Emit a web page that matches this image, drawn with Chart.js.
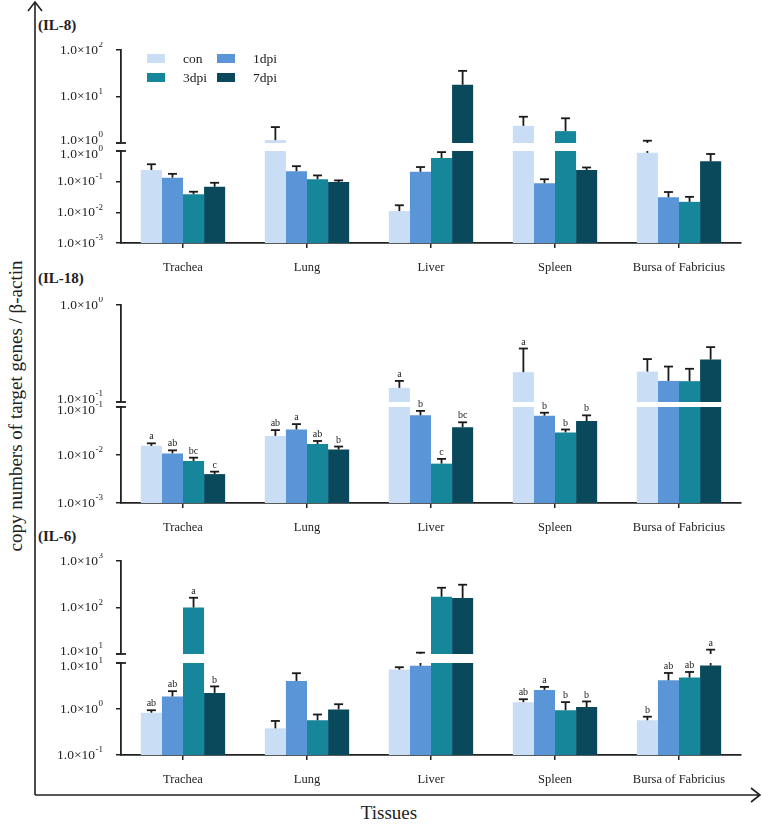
<!DOCTYPE html>
<html>
<head>
<meta charset="utf-8">
<script src="https://cdn.jsdelivr.net/npm/chart.js@4.4.1/dist/chart.umd.min.js"></script>
<style>
  body { margin: 0; background: #fff; }
  #fig { position: relative; width: 762px; height: 827px; font-family: "Liberation Serif", serif; color: #222; }
  #fig canvas { position: absolute; }
  .t { position: absolute; white-space: nowrap; line-height: 1; }
  .panel { font-weight: bold; font-size: 15px; }
  .sw { position: absolute; width: 18px; height: 9px; }
</style>
</head>
<body>
<div id="fig">
  <svg width="762" height="827" style="position:absolute;left:0;top:0">
    <g stroke="#222" stroke-width="1.6" fill="none">
      <path d="M35 795 V2 M28 11 L35 2 L42 11" />
      <path d="M35 795 H760 M751 788 L760 795 L751 802" />
    </g>
  </svg>
  <div class="t panel" style="left:38px;top:18px">(IL-8)</div>
  <div class="t panel" style="left:38px;top:271px">(IL-18)</div>
  <div class="t panel" style="left:38px;top:529px">(IL-6)</div>
  <div class="t" style="left:15px;top:406px;font-size:19px;transform:translate(-50%,-50%) rotate(-90deg)">copy numbers of target genes / β-actin</div>
  <div class="t" style="left:389px;top:812px;font-size:19px;transform:translate(-50%,-50%)">Tissues</div>
</div>
<script>
"use strict";
const tissues = ["Trachea", "Lung", "Liver", "Spleen", "Bursa of Fabricius"];
const groups = ["con", "1dpi", "3dpi", "7dpi"];
const groupColors = ["#c9ddf4", "#5a96d7", "#16879a", "#09495b"];

// means per group (rows: con, 1dpi, 3dpi, 7dpi; cols: tissues)
const il8Mean = [
  [0.24, 1.15, 0.011, 2.34, 0.87],
  [0.135, 0.22, 0.21, 0.089, 0.031],
  [0.039, 0.12, 0.59, 1.8, 0.022],
  [0.068, 0.097, 17.9, 0.24, 0.46],
];
// top of error bar (mean + SD)
const il8Err = [
  [0.37, 2.2, 0.017, 3.67, 1.12],
  [0.18, 0.32, 0.30, 0.12, 0.046],
  [0.047, 0.16, 0.92, 3.4, 0.032],
  [0.092, 0.11, 35.6, 0.29, 0.8],
];
const il18Mean = [
  [0.0155, 0.025, 0.14, 0.203, 0.206],
  [0.0108, 0.034, 0.067, 0.066, 0.165],
  [0.0075, 0.017, 0.0066, 0.0296, 0.164],
  [0.004, 0.013, 0.038, 0.051, 0.274],
];
const il18Err = [
  [0.0175, 0.033, 0.165, 0.356, 0.277],
  [0.0125, 0.044, 0.083, 0.076, 0.232],
  [0.0088, 0.0196, 0.0083, 0.034, 0.22],
  [0.0045, 0.015, 0.048, 0.067, 0.368],
];
const il18Letters = [
  ["a", "ab", "a", "a", ""],
  ["ab", "a", "b", "b", ""],
  ["bc", "ab", "c", "b", ""],
  ["c", "b", "bc", "b", ""],
];
const il6Mean = [
  [0.83, 0.38, 7.2, 1.41, 0.57],
  [1.87, 4.07, 8.7, 2.6, 4.2],
  [100, 0.57, 170, 0.94, 4.83],
  [2.24, 0.98, 160, 1.1, 8.8],
];
const il6Err = [
  [0.94, 0.55, 8.1, 1.63, 0.68],
  [2.44, 6.0, 10.7, 3.02, 6.07],
  [162, 0.76, 266, 1.41, 6.38],
  [3.1, 1.27, 309, 1.46, 12.4],
];
const il6Letters = [
  ["ab", "", "", "ab", "b"],
  ["ab", "", "", "a", "ab"],
  ["a", "", "", "b", "ab"],
  ["b", "", "", "b", "a"],
];
const il8UpperTicks = [1, 10, 100], il8LowerTicks = [0.001, 0.01, 0.1, 1];
const il18UpperTicks = [0.1, 1], il18LowerTicks = [0.001, 0.01, 0.1];
const il6UpperTicks = [10, 100, 1000], il6LowerTicks = [0.1, 1, 10];

Chart.defaults.font.family = "'Liberation Serif', serif";
Chart.defaults.color = "#222";

const fig = document.getElementById("fig");

// layout of the broken axes (page px)
const panels = [
  { mean: il8Mean, err: il8Err, letters: null,
    upper: { top: 50, bottom: 143, ticks: il8UpperTicks },
    lower: { top: 151, bottom: 243, ticks: il8LowerTicks } },
  { mean: il18Mean, err: il18Err, letters: il18Letters,
    upper: { top: 305, bottom: 402, ticks: il18UpperTicks },
    lower: { top: 407, bottom: 503, ticks: il18LowerTicks } },
  { mean: il6Mean, err: il6Err, letters: il6Letters,
    upper: { top: 561, bottom: 654, ticks: il6UpperTicks },
    lower: { top: 663, bottom: 755, ticks: il6LowerTicks } },
];

const errPlugin = {
  id: "errbars",
  afterDatasetsDraw(chart, args, o) {
    const ctx = chart.ctx, y = chart.scales.y;
    ctx.save();
    ctx.strokeStyle = "#1a1a1a";
    ctx.fillStyle = "#222";
    ctx.lineWidth = 1.8;
    ctx.textAlign = "center";
    ctx.textBaseline = "bottom";
    ctx.font = "10px 'Liberation Serif'";
    o.mean.forEach((row, i) => {
      const meta = chart.getDatasetMeta(i);
      row.forEach((m, j) => {
        const e = o.err[i][j];
        if (e <= y.min || m >= y.max) return;
        const x = meta.data[j].x;
        const p0 = y.getPixelForValue(Math.max(m, y.min));
        const p1 = y.getPixelForValue(Math.min(e, y.max));
        ctx.beginPath(); ctx.moveTo(x, p0); ctx.lineTo(x, p1); ctx.stroke();
        if (e <= y.max) {
          ctx.beginPath(); ctx.moveTo(x - 4.5, p1); ctx.lineTo(x + 4.5, p1); ctx.stroke();
          if (o.letters && o.letters[i][j]) ctx.fillText(o.letters[i][j], x, p1 - 1.5);
        }
      });
    });
    ctx.restore();
  }
};

const sciLabels = {
  id: "sciLabels",
  afterDraw(chart, args, o) {
    const ctx = chart.ctx, y = chart.scales.y, a = chart.chartArea;
    ctx.save();
    ctx.fillStyle = "#222";
    ctx.textBaseline = "middle";
    const xr = a.left - 18;
    y.ticks.forEach((t) => {
      let py = y.getPixelForValue(t.value);
      // nudge the two labels that meet at the break apart
      if (o.seg === "upper" && t.value === y.min) py -= 3;
      if (o.seg === "lower" && t.value === y.max) py += 3;
      const exp = String(Math.round(Math.log10(t.value)));
      ctx.font = "9px 'Liberation Serif'";
      const ew = ctx.measureText(exp).width;
      ctx.textAlign = "left";
      ctx.fillText(exp, xr - ew, py - 5);
      ctx.font = "13.5px 'Liberation Serif'";
      ctx.textAlign = "right";
      ctx.fillText("1.0×10", xr - ew - 0.5, py);
    });
    // cap at the axis break
    ctx.strokeStyle = "#222";
    ctx.lineWidth = 1.8;
    const by = o.seg === "upper" ? a.bottom : a.top;
    ctx.beginPath(); ctx.moveTo(a.left - 5, by); ctx.lineTo(a.left + 5, by); ctx.stroke();
    ctx.restore();
  }
};

function segChart(p, seg) {
  const s = p[seg];
  const isLow = seg === "lower";
  const min = s.ticks[0], max = s.ticks[s.ticks.length - 1];
  const cv = document.createElement("canvas");
  cv.width = 705;
  cv.height = (s.bottom - s.top) + 8 + (isLow ? 40 : 8);
  cv.style.left = "40px";
  cv.style.top = (s.top - 8) + "px";
  fig.appendChild(cv);
  new Chart(cv, {
    type: "bar",
    data: {
      labels: tissues,
      datasets: groups.map((g, i) => ({
        label: g, backgroundColor: groupColors[i], borderWidth: 0,
        categoryPercentage: 0.68, barPercentage: 1,
        data: p.mean[i].map((v) => (!isLow && v <= min) ? null : v),
      })),
    },
    options: {
      responsive: false, animation: false, events: [],
      layout: { padding: { top: 8, bottom: isLow ? 0 : 8, right: 4, left: 0 } },
      plugins: {
        legend: { display: false }, tooltip: { enabled: false },
        errbars: { mean: p.mean, err: p.err, letters: p.letters },
        sciLabels: { seg },
      },
      scales: {
        x: {
          display: isLow,
          grid: { drawOnChartArea: false, offset: false, tickLength: 5, color: "#222", lineWidth: 1.5 },
          border: { color: "#222", width: 1.8 },
          ticks: { padding: 12, font: { size: 12.5 }, color: "#222", maxRotation: 0, autoSkip: false },
          afterFit: (sc) => { sc.height = isLow ? 40 : 0; },
        },
        y: {
          type: "logarithmic", min, max,
          grid: { drawOnChartArea: false, tickLength: 5, color: "#222", lineWidth: 1.5 },
          border: { color: "#222", width: 1.8 },
          ticks: { display: false },
          afterBuildTicks: (sc) => { sc.ticks = s.ticks.map((v) => ({ value: v })); },
          afterFit: (sc) => { sc.width = 81; },
        },
      },
    },
    plugins: [errPlugin, sciLabels],
  });
}

panels.forEach((p) => { segChart(p, "upper"); segChart(p, "lower"); });

// legend, 2 x 2 inside the IL-8 panel
const legendSlots = [[147, 54], [217, 54], [147, 73], [217, 73]];
groups.forEach((g, i) => {
  const [lx, ly] = legendSlots[i];
  const sw = document.createElement("div");
  sw.className = "sw";
  sw.style.cssText = `left:${lx}px;top:${ly}px;background:${groupColors[i]}`;
  fig.appendChild(sw);
  const tx = document.createElement("div");
  tx.className = "t";
  tx.style.cssText = `left:${lx + 36}px;top:${ly - 2}px;font-size:13.5px`;
  tx.textContent = g;
  fig.appendChild(tx);
});
</script>
</body>
</html>
